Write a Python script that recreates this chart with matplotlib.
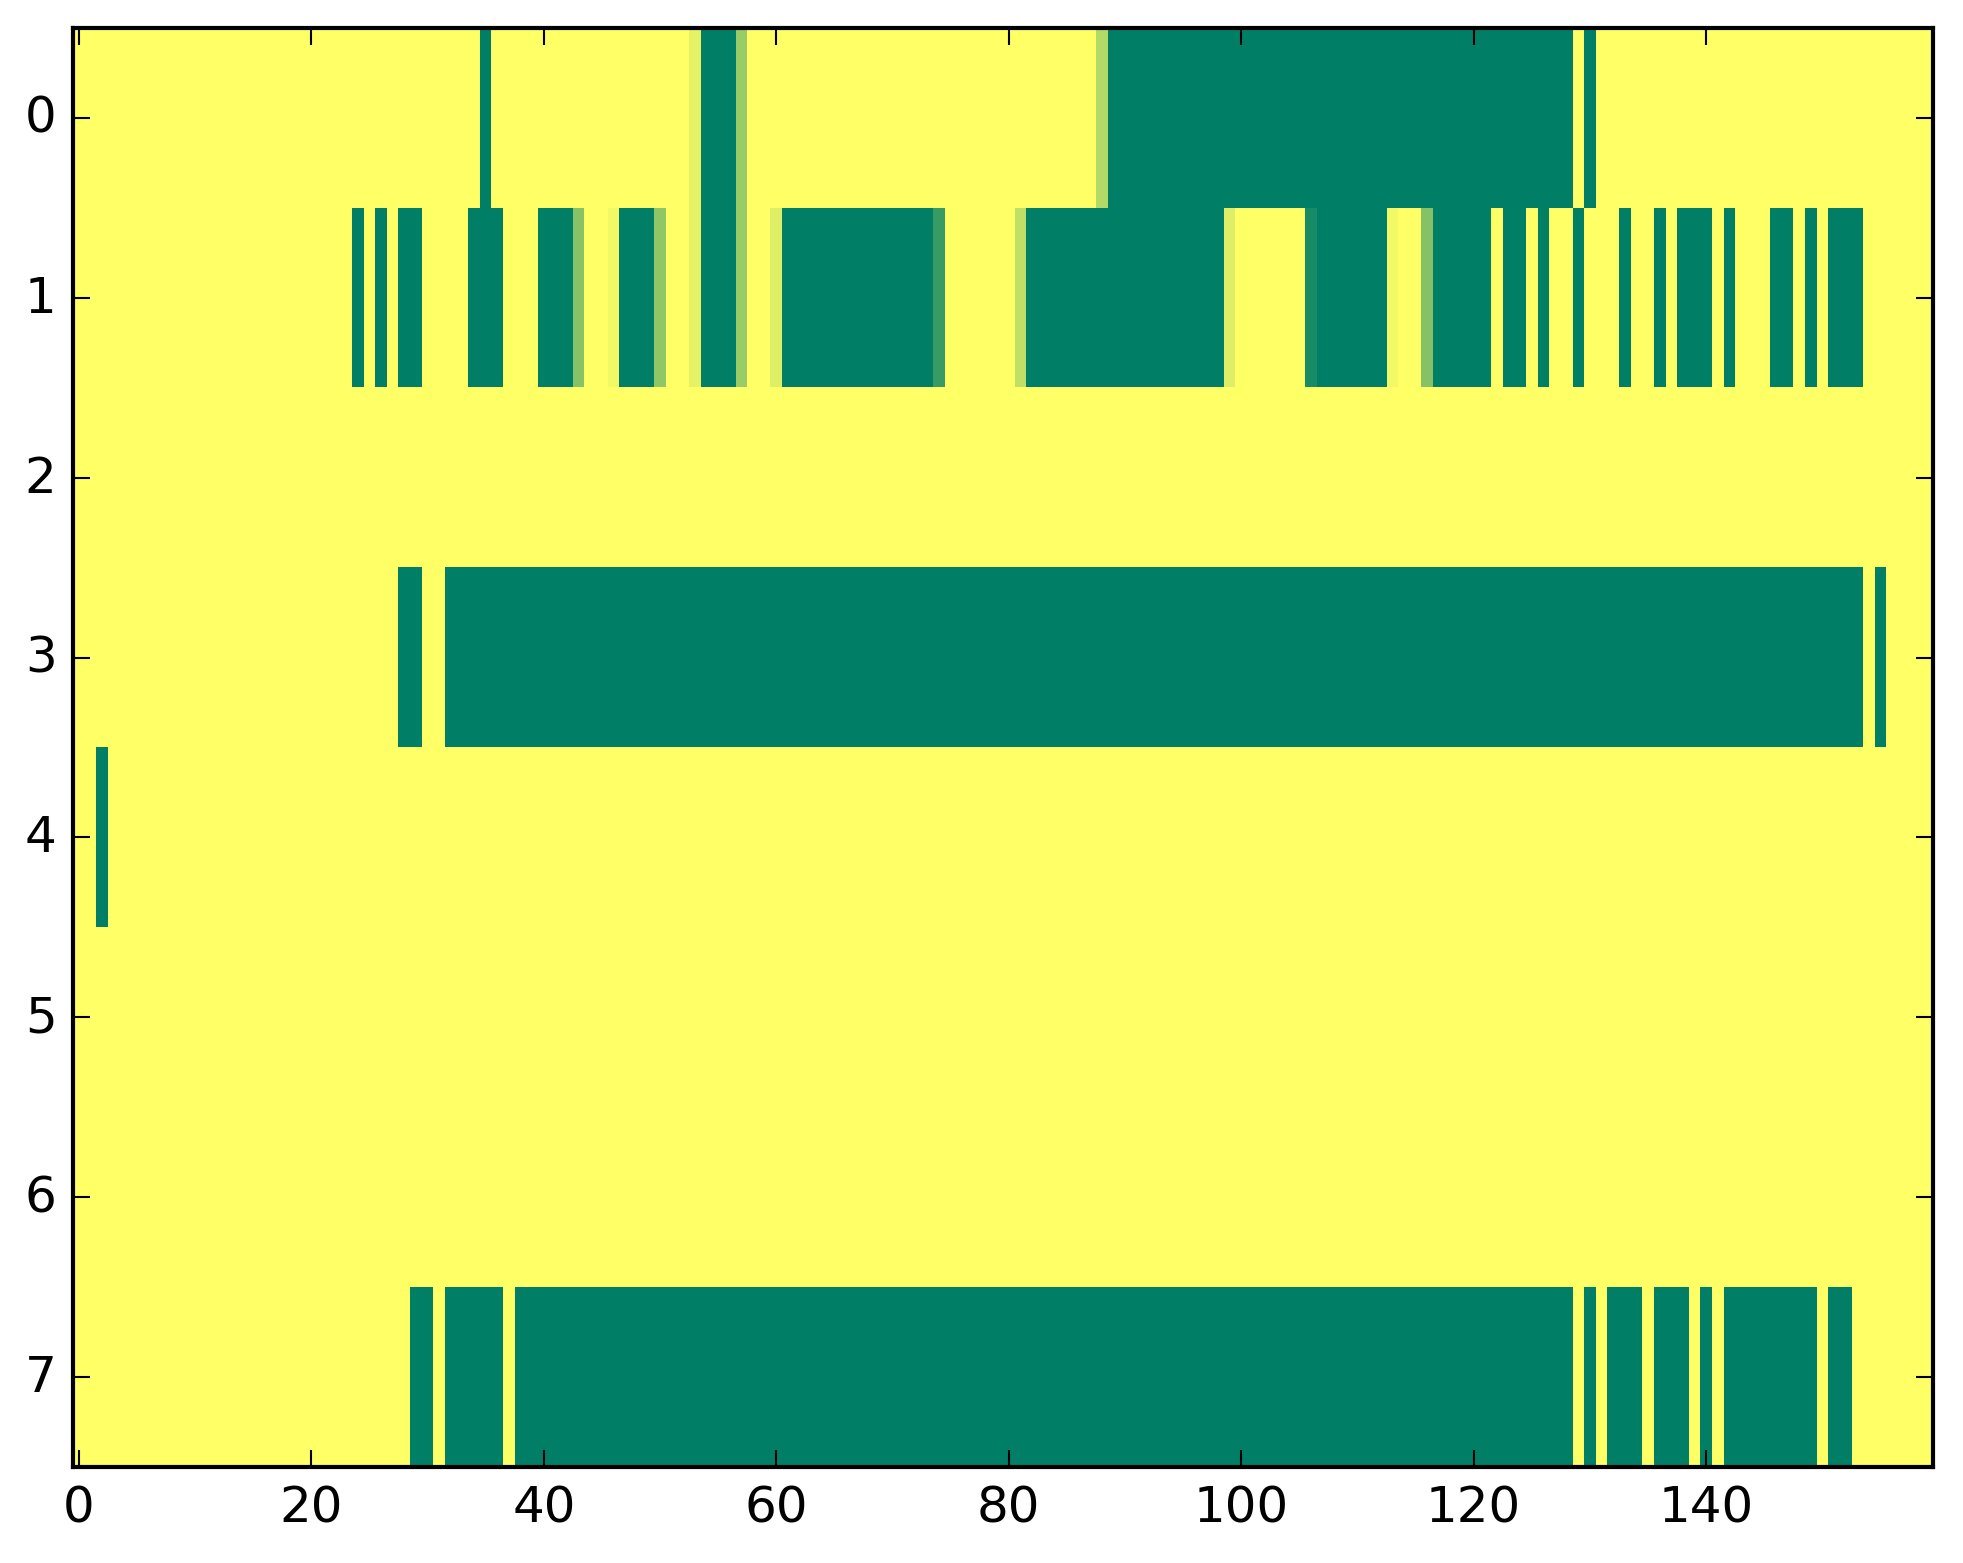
import matplotlib
matplotlib.use("Agg")
import matplotlib.pyplot as plt
import numpy as np

plt.style.use("classic")

n_rows = 8
n_cols = 160

# runs of fully "on" cells per row (inclusive column ranges)
row0_on = [(35, 35), (54, 56), (89, 128), (130, 130)]
row1_on = [(24, 24), (26, 26), (28, 29), (34, 36), (40, 42), (47, 49),
           (54, 56), (61, 73), (82, 98), (107, 112), (117, 121), (123, 124),
           (126, 126), (129, 129), (133, 133), (136, 136), (138, 140),
           (142, 142), (146, 147), (149, 149), (151, 153)]
row3_on = [(28, 29), (32, 153), (155, 155)]
row4_on = [(2, 2)]
row7_on = [(29, 30), (32, 36), (38, 128), (130, 130), (132, 134),
           (136, 138), (140, 140), (142, 149), (151, 152)]

# cells with intermediate values
row0_partial = {53: 0.10, 57: 0.40, 88: 0.30}
row1_partial = {43: 0.47, 46: 0.05, 50: 0.44, 53: 0.10, 57: 0.40,
                60: 0.13, 74: 0.78, 81: 0.25, 99: 0.13, 106: 0.91,
                113: 0.05, 116: 0.48}

xticks = [0, 20, 40, 60, 80, 100, 120, 140]
yticks = list(range(n_rows))


def build_matrix():
    m = np.zeros((n_rows, n_cols))
    runs = {0: row0_on, 1: row1_on, 3: row3_on, 4: row4_on, 7: row7_on}
    for r, segs in runs.items():
        for a, b in segs:
            m[r, a:b + 1] = 1.0
    for r, part in ((0, row0_partial), (1, row1_partial)):
        for c, v in part.items():
            m[r, c] = v
    return m


data = build_matrix()

W, H, DPI = 1963, 1564, 300
fig = plt.figure(figsize=(W / DPI, H / DPI), dpi=DPI, facecolor="white")
ax = fig.add_axes([73.2 / W, (H - 1468) / H, 1859.5 / W, 1439 / H])

ax.imshow(data, cmap="summer_r", vmin=0, vmax=1, aspect="auto",
          interpolation="nearest")
ax.set_xticks(xticks)
ax.set_yticks(yticks)
ax.set_xlim(-0.5, n_cols - 0.5)
ax.set_ylim(n_rows - 0.5, -0.5)
ax.tick_params(labelsize=12)

fig.savefig("out.png", dpi=DPI)
